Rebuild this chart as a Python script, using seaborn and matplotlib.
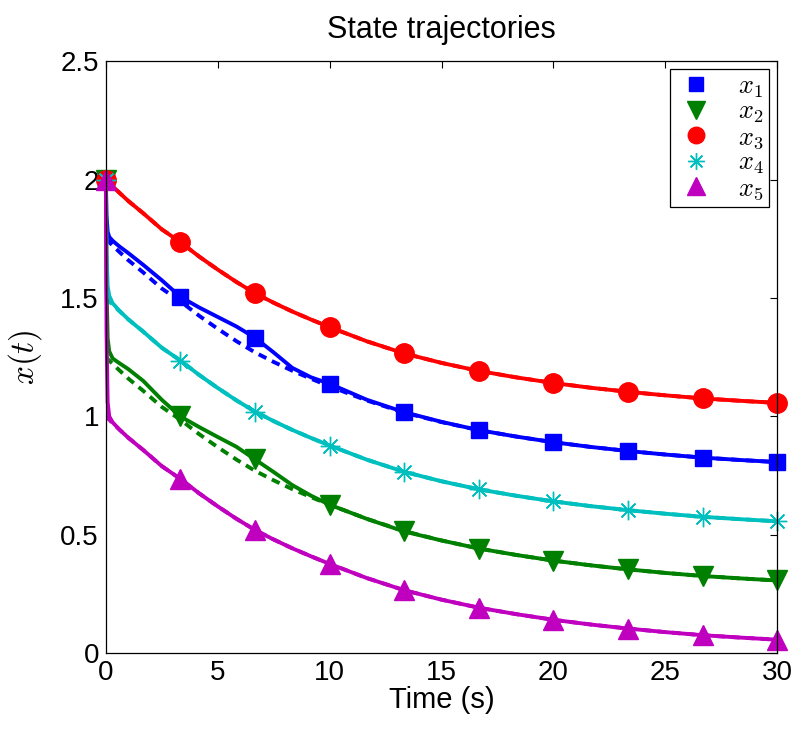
import numpy as np
import pandas as pd
import matplotlib
matplotlib.use("Agg")
import matplotlib.pyplot as plt
from matplotlib.lines import Line2D
import seaborn as sns

# time grid
t = [0, 0.03, 0.08, 0.15, 0.3, 0.6, 1.0, 1.67, 2.5, 3.33, 4.17, 5.0, 5.83, 6.67,
     7.5, 8.33, 9.17, 10, 11.67, 13.33, 15, 16.67, 18.33, 20, 21.67, 23.33, 25,
     26.67, 28.33, 30]
marker_idx = [0, 9, 13, 17, 19, 21, 23, 25, 27, 29]

# desired (dashed) trajectories
x1_ref = [1.75, 1.747, 1.742, 1.736, 1.722, 1.695, 1.66, 1.608, 1.54, 1.486, 1.425, 1.37,
          1.318, 1.27, 1.23, 1.193, 1.159, 1.127, 1.067, 1.016, 0.976, 0.942, 0.915,
          0.891, 0.871, 0.854, 0.839, 0.826, 0.816, 0.807]
x2_ref = [1.25, 1.247, 1.242, 1.236, 1.222, 1.195, 1.16, 1.108, 1.04, 0.986, 0.925, 0.87,
          0.818, 0.77, 0.73, 0.693, 0.659, 0.627, 0.567, 0.516, 0.476, 0.442, 0.415,
          0.391, 0.371, 0.354, 0.339, 0.326, 0.316, 0.307]
x3_ref = [2.0, 1.997, 1.992, 1.986, 1.972, 1.945, 1.91, 1.858, 1.79, 1.736, 1.675, 1.62,
          1.568, 1.52, 1.48, 1.443, 1.409, 1.377, 1.317, 1.266, 1.226, 1.192, 1.165,
          1.141, 1.121, 1.104, 1.089, 1.076, 1.066, 1.057]
x4_ref = [1.5, 1.497, 1.492, 1.486, 1.472, 1.445, 1.41, 1.358, 1.29, 1.236, 1.175, 1.12,
          1.068, 1.02, 0.98, 0.943, 0.909, 0.877, 0.817, 0.766, 0.726, 0.692, 0.665,
          0.641, 0.621, 0.604, 0.589, 0.576, 0.566, 0.557]
x5_ref = [1.0, 0.997, 0.992, 0.986, 0.972, 0.945, 0.91, 0.858, 0.79, 0.736, 0.675, 0.62,
          0.568, 0.52, 0.48, 0.443, 0.409, 0.377, 0.317, 0.266, 0.226, 0.192, 0.165,
          0.141, 0.121, 0.104, 0.089, 0.076, 0.066, 0.057]

# actual (solid) trajectories
x1 = [2.0, 1.85, 1.78, 1.758, 1.742, 1.718, 1.69, 1.64, 1.575, 1.505, 1.46, 1.42,
      1.38, 1.332, 1.27, 1.205, 1.165, 1.138, 1.07, 1.018, 0.977, 0.942, 0.915,
      0.891, 0.871, 0.854, 0.839, 0.826, 0.816, 0.807]
x2 = [2.0, 1.55, 1.33, 1.275, 1.245, 1.225, 1.2, 1.15, 1.07, 1.0, 0.955, 0.913,
      0.872, 0.818, 0.765, 0.71, 0.665, 0.627, 0.567, 0.514, 0.476, 0.442, 0.415,
      0.391, 0.371, 0.354, 0.339, 0.326, 0.316, 0.307]
x3 = [2.0, 1.997, 1.992, 1.986, 1.972, 1.945, 1.91, 1.858, 1.79, 1.736, 1.675, 1.62,
      1.568, 1.52, 1.48, 1.443, 1.409, 1.377, 1.317, 1.266, 1.226, 1.192, 1.165,
      1.141, 1.121, 1.104, 1.089, 1.076, 1.066, 1.057]
x4 = [2.0, 1.7, 1.55, 1.51, 1.478, 1.447, 1.41, 1.358, 1.29, 1.236, 1.175, 1.12,
      1.068, 1.02, 0.98, 0.943, 0.909, 0.877, 0.817, 0.766, 0.726, 0.692, 0.665,
      0.641, 0.621, 0.604, 0.589, 0.576, 0.566, 0.557]
x5 = [2.0, 1.35, 1.06, 1.0, 0.975, 0.945, 0.91, 0.858, 0.79, 0.736, 0.675, 0.62,
      0.568, 0.52, 0.48, 0.443, 0.409, 0.377, 0.317, 0.266, 0.226, 0.192, 0.165,
      0.141, 0.121, 0.104, 0.089, 0.076, 0.066, 0.057]

labels = ["$x_1$", "$x_2$", "$x_3$", "$x_4$", "$x_5$"]
colors = ["#0000ff", "#008000", "#ff0000", "#00bfbf", "#bf00bf"]
markers = ["s", "v", "o", (8, 2, 0), "^"]
msizes = [12, 15, 14, 14, 15]

sns.set_style("white")
plt.rcParams['font.family'] = ['Liberation Sans', 'DejaVu Sans']
plt.rcParams['mathtext.fontset'] = 'cm'
plt.rcParams['text.color'] = 'black'
plt.rcParams['axes.labelcolor'] = 'black'
plt.rcParams['xtick.color'] = 'black'
plt.rcParams['ytick.color'] = 'black'

fig = plt.figure(figsize=(8.02, 7.29), dpi=100)
ax = fig.add_axes([0.132, 0.104, 0.837, 0.812])

refs = [x1_ref, x2_ref, x3_ref, x4_ref, x5_ref]
acts = [x1, x2, x3, x4, x5]

for r, c in zip(refs, colors):
    df = pd.DataFrame({"t": t, "x": r})
    sns.lineplot(data=df, x="t", y="x", ax=ax, color=c, lw=2.8, estimator=None,
                 sort=False, dashes=False, linestyle=(0, (2.2, 1.6)))

handles = []
for a, c, m, ms, lab in zip(acts, colors, markers, msizes, labels):
    df = pd.DataFrame({"t": t, "x": a})
    sns.lineplot(data=df, x="t", y="x", ax=ax, color=c, lw=2.8, estimator=None,
                 sort=False, marker=m, markersize=ms, markevery=marker_idx,
                 markerfacecolor=c, markeredgecolor=c, markeredgewidth=1.0,
                 clip_on=False)
    handles.append(Line2D([], [], linestyle="none", marker=m, markersize=ms * 0.85,
                          color=c, markerfacecolor=c, markeredgecolor=c,
                          markeredgewidth=1.0, label=lab))

ax.set_xlim(0, 30)
ax.set_ylim(0, 2.5)
ax.set_xticks([0, 5, 10, 15, 20, 25, 30])
ax.set_yticks([0, 0.5, 1, 1.5, 2, 2.5])
ax.set_yticklabels(["0", "0.5", "1", "1.5", "2", "2.5"])
ax.tick_params(direction="in", top=True, right=True, length=5, width=0.8,
               labelsize=20, pad=5, colors="black")
for s in ax.spines.values():
    s.set_color("black")
    s.set_linewidth(0.9)

ax.set_title("State trajectories", fontsize=22, pad=17)
ax.set_xlabel("Time (s)", fontsize=21, labelpad=0)
ax.set_ylabel("$x(t)$", fontsize=24, labelpad=12)

leg = ax.legend(handles=handles, loc="upper right", fontsize=19, frameon=True,
                fancybox=False, edgecolor="black", framealpha=1,
                borderaxespad=0.3, handlelength=1.6, handletextpad=0.8,
                labelspacing=0.0, borderpad=0.2)
leg.get_frame().set_linewidth(0.9)

fig.savefig("out.png", dpi=100)
